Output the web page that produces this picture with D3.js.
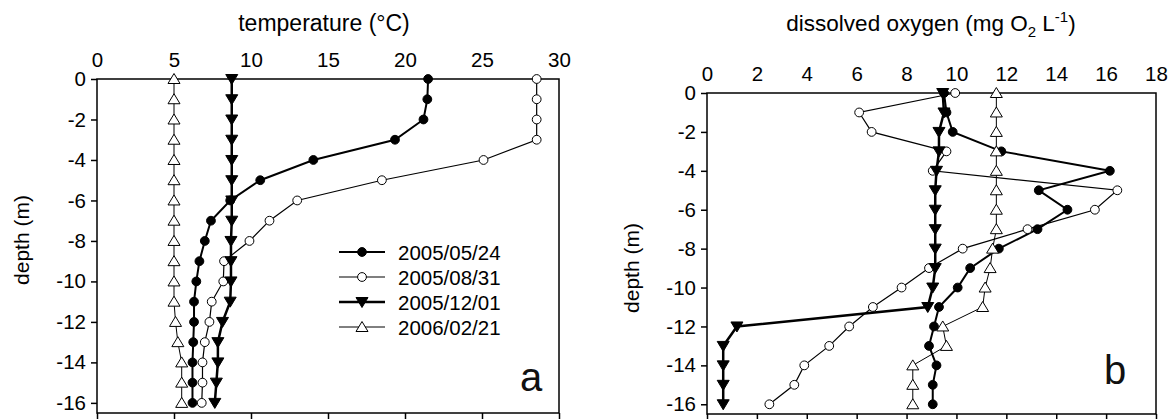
<!DOCTYPE html>
<html><head><meta charset="utf-8">
<script src="https://cdn.jsdelivr.net/npm/d3@7/dist/d3.min.js"></script>
<style>body{margin:0;background:#fff}svg{display:block;font-family:"Liberation Sans",Arial,sans-serif}</style>
</head><body><svg id="c" width="1174" height="419"></svg>
<script>
const depths = [0,-1,-2,-3,-4,-5,-6,-7,-8,-9,-10,-11,-12,-13,-14,-15,-16];
const seriesNames = ["2005/05/24","2005/08/31","2005/12/01","2006/02/21"];
const temp0524 = [21.5,21.45,21.2,19.35,14.05,10.6,8.65,7.4,7.0,6.65,6.45,6.3,6.3,6.25,6.2,6.2,6.2];
const temp0831 = [28.55,28.55,28.55,28.55,25.1,18.5,13.0,11.2,9.9,8.25,8.2,7.45,7.3,7.0,6.85,6.85,6.8];
const temp1201 = [8.75,8.75,8.75,8.75,8.75,8.75,8.75,8.75,8.7,8.7,8.7,8.65,8.15,7.85,7.85,7.75,7.65];
const temp0221 = [5.0,5.0,5.0,5.0,5.0,5.0,5.0,5.0,5.0,5.0,5.0,5.0,5.1,5.25,5.5,5.5,5.5];
const do0524 = [9.5,9.6,9.85,11.8,16.15,13.3,14.45,13.25,11.7,10.55,10.05,9.3,9.1,8.9,9.2,9.05,9.05];
const do0831 = [9.95,6.1,6.6,9.6,9.05,16.45,15.55,12.85,10.25,8.9,7.8,6.65,5.7,4.9,3.9,3.5,2.5];
const do1201 = [9.45,9.5,9.3,9.3,9.2,9.15,9.15,9.15,9.15,9.15,9.05,8.85,1.2,0.65,0.65,0.65,0.65];
const do0221 = [11.6,11.6,11.6,11.6,11.6,11.6,11.6,11.6,11.45,11.35,11.15,11.05,9.45,9.6,8.25,8.25,8.25];
const tempTicks = [0,5,10,15,20,25,30];
const doTicks = [0,2,4,6,8,10,12,14,16,18];
const depthTicks = [0,-2,-4,-6,-8,-10,-12,-14,-16];

const styles = [
  {shape:"circle", fill:"#000", lw:2},
  {shape:"circle", fill:"#fff", lw:1.2},
  {shape:"down", fill:"#000", lw:2.5},
  {shape:"up", fill:"#fff", lw:1}
];
const svg = d3.select("#c");

function marker(g, shape, fill, x, y){
  let el;
  if(shape==="circle"){
    el = g.append("circle").attr("cx",x).attr("cy",y).attr("r",4.4);
  } else if(shape==="down"){
    el = g.append("path").attr("d",`M${x-6},${y-4.5}L${x+6},${y-4.5}L${x},${y+5.5}Z`);
  } else {
    el = g.append("path").attr("d",`M${x-6},${y+4.5}L${x+6},${y+4.5}L${x},${y-5.5}Z`);
  }
  el.attr("fill",fill).attr("stroke","#000").attr("stroke-width",1);
}

function panel(opt){
  const x = d3.scaleLinear().domain(opt.xdom).range([opt.x0,opt.x1]);
  const y = d3.scaleLinear().domain([0,-16.5]).range([opt.y0,opt.y1]);
  const g = svg.append("g");
  g.append("rect").attr("x",opt.x0).attr("y",opt.y0).attr("width",opt.x1-opt.x0).attr("height",opt.y1-opt.y0)
    .attr("fill","none").attr("stroke","#000").attr("stroke-width",1.5);
  const top = g.append("g").attr("transform",`translate(0,${opt.y0})`)
    .call(d3.axisTop(x).tickValues(opt.xticks).tickSize(0).tickPadding(opt.topPad).tickFormat(d3.format("d")));
  top.select(".domain").remove();
  top.selectAll("text").attr("font-size",20.5).attr("fill","#000").attr("font-family","Liberation Sans, Arial");
  const bot = g.append("g").attr("transform",`translate(0,${opt.y1})`)
    .call(d3.axisBottom(x).tickValues(opt.xticks).tickSize(6).tickFormat(""));
  bot.select(".domain").remove();
  bot.selectAll("line").attr("stroke","#000").attr("stroke-width",1.5);
  const left = g.append("g").attr("transform",`translate(${opt.x0},0)`)
    .call(d3.axisLeft(y).tickValues(depthTicks).tickSize(6).tickPadding(5).tickFormat(d=>d===0?"0":"-"+(-d)));
  left.select(".domain").remove();
  left.selectAll("line").attr("stroke","#000").attr("stroke-width",1.5);
  left.selectAll("text").attr("font-size",20.5).attr("fill","#000").attr("font-family","Liberation Sans, Arial");
  g.append("text").attr("transform",`translate(${opt.ylabX},${opt.ylabY}) rotate(-90)`)
    .attr("text-anchor","middle").attr("dominant-baseline","central").attr("font-size",21).text("depth (m)");
  opt.series.forEach((vals,i)=>{
    const st = styles[i];
    const line = d3.line().x(v=>x(v)).y((v,j)=>y(depths[j]));
    g.append("path").attr("d",line(vals)).attr("fill","none").attr("stroke","#000").attr("stroke-width",st.lw);
  });
  opt.series.forEach((vals,i)=>{
    const st = styles[i];
    vals.forEach((v,j)=>marker(g, st.shape, st.fill, x(v), y(depths[j])));
  });
  g.append("text").attr("x",opt.letX).attr("y",opt.letY).attr("font-size",40).attr("fill","#111").text(opt.letter);
  return g;
}

panel({xdom:[0,30], x0:97, x1:559, y0:79, y1:413, xticks:tempTicks, topPad:12,
  ylabX:21, ylabY:240, series:[temp0524,temp0831,temp1201,temp0221], letter:"a", letX:520, letY:391});
panel({xdom:[0,18], x0:707, x1:1156, y0:93, y1:414, xticks:doTicks, topPad:12,
  ylabX:631, ylabY:268, series:[do0524,do0831,do1201,do0221], letter:"b", letX:1104, letY:384});

svg.append("text").attr("x",324).attr("y",31).attr("text-anchor","middle").attr("font-size",23).text("temperature (°C)");
const t2 = svg.append("text").attr("x",931).attr("y",31).attr("text-anchor","middle").attr("font-size",22.5);
t2.append("tspan").text("dissolved oxygen (mg O");
t2.append("tspan").attr("font-size",15).attr("dy",6).text("2");
t2.append("tspan").attr("dy",-6).text(" L");
t2.append("tspan").attr("font-size",15).attr("dy",-9).text("-1");
t2.append("tspan").attr("dy",9).text(")");

const leg = svg.append("g");
const legY = [252,277,302,327];
seriesNames.forEach((n,i)=>{
  const st = styles[i];
  leg.append("line").attr("x1",339).attr("x2",385).attr("y1",legY[i]).attr("y2",legY[i])
    .attr("stroke","#000").attr("stroke-width",st.lw);
  marker(leg, st.shape, st.fill, 362, legY[i]);
  leg.append("text").attr("x",398).attr("y",legY[i]).attr("dominant-baseline","central")
    .attr("font-size",20.5).text(n);
});
</script></body></html>
